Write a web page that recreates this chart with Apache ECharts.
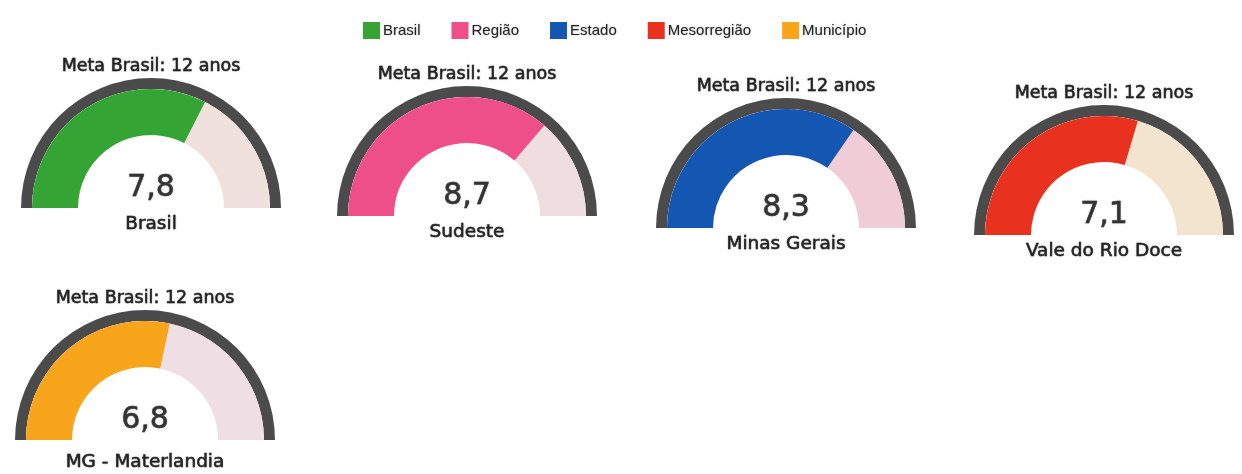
<!DOCTYPE html>
<html>
<head>
<meta charset="utf-8">
<title>Meta Brasil</title>
<script src="https://cdn.jsdelivr.net/npm/echarts@6/dist/echarts.min.js"></script>
<style>
html, body { margin: 0; padding: 0; background: #ffffff; }
#chart { width: 1242px; height: 474px; }
</style>
</head>
<body>
<div id="chart"></div>
<script>
// dados
var niveis = ['Brasil', 'Região', 'Estado', 'Mesorregião', 'Município'];
var locais = ['Brasil', 'Sudeste', 'Minas Gerais', 'Vale do Rio Doce', 'MG - Materlandia'];
var valores = [7.8, 8.7, 8.3, 7.1, 6.8];
var meta = 12;
var metaTexto = 'Meta Brasil: 12 anos';

// estilo
var cores = ['#34a534', '#ee4f88', '#1457b2', '#e8321f', '#f8a51b'];
var coresResto = ['#f1e1dd', '#efdde0', '#f0ccd7', '#f2e4cf', '#efdfe5'];
var centros = [[151, 208], [467, 216], [786, 228], [1104, 235], [145, 440]];
var fonte = '"DejaVu Sans", Verdana, sans-serif';
var sombra = {
  textShadowColor: 'rgba(0,0,0,0.25)', textShadowBlur: 2,
  textBorderColor: '#2a2a2a', textBorderWidth: 0.5
};

var chart = echarts.init(document.getElementById('chart'));

var series = [];
valores.forEach(function (v, i) {
  // anel escuro externo + texto da meta
  series.push({
    type: 'gauge',
    center: centros[i],
    radius: 130,
    startAngle: 180,
    endAngle: 0,
    min: 0,
    max: meta,
    silent: true,
    axisLine: { lineStyle: { width: 11, color: [[1, '#4b4b4b']] } },
    pointer: { show: false },
    anchor: { show: false },
    axisTick: { show: false },
    splitLine: { show: false },
    axisLabel: { show: false },
    detail: { show: false },
    title: Object.assign({
      offsetCenter: [0, -142],
      fontFamily: fonte,
      fontSize: 17.5,
      color: '#222'
    }, sombra),
    data: [{ value: 0, name: metaTexto }]
  });
  // faixa colorida
  series.push({
    type: 'gauge',
    name: niveis[i],
    center: centros[i],
    radius: 119,
    startAngle: 180,
    endAngle: 0,
    min: 0,
    max: meta,
    itemStyle: { color: cores[i] },
    axisLine: { lineStyle: { width: 46, color: [[1, coresResto[i]]] } },
    progress: { show: true, width: 46, itemStyle: { color: cores[i] } },
    pointer: { show: false },
    anchor: { show: false },
    axisTick: { show: false },
    splitLine: { show: false },
    axisLabel: { show: false },
    title: Object.assign({
      offsetCenter: [0, i === 4 ? 22 : 16],
      fontFamily: fonte,
      fontSize: 18.5,
      color: '#222'
    }, sombra),
    detail: Object.assign({
      offsetCenter: [0, -20],
      fontFamily: fonte,
      fontSize: 30,
      fontWeight: 'normal',
      color: '#333',
      formatter: function (val) { return val.toFixed(1).replace('.', ','); }
    }, sombra),
    data: [{ value: v, name: locais[i] }]
  });
});

chart.setOption({
  animation: false,
  legend: {
    left: 358,
    top: 17,
    itemWidth: 17,
    itemHeight: 17,
    itemGap: 31,
    selectedMode: false,
    icon: 'rect',
    textStyle: {
      fontFamily: '"Liberation Sans", Arial, sans-serif',
      fontSize: 15,
      color: '#222',
      padding: [0, 0, 0, -2],
      textShadowColor: 'rgba(0,0,0,0.3)',
      textShadowBlur: 2
    },
    data: niveis.map(function (n, i) {
      return { name: n, itemStyle: { color: cores[i] } };
    })
  },
  series: series
});
</script>
</body>
</html>
